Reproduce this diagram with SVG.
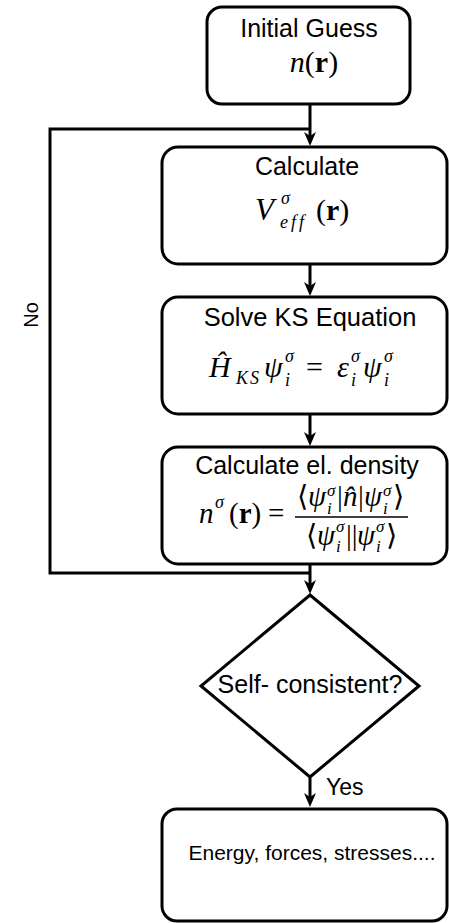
<svg xmlns="http://www.w3.org/2000/svg" width="449" height="923" viewBox="0 0 449 923">
<style>
.box{fill:#fff;stroke:#000;stroke-width:3}
.ln{fill:none;stroke:#000;stroke-width:3}
.t{font-family:"Liberation Sans",Arial,sans-serif;font-size:25px;fill:#000;text-anchor:middle}
.m{font-family:"Liberation Serif","DejaVu Serif","DejaVu Sans",serif;font-size:30px;font-style:italic;fill:#000}
.f{font-size:29px}
.u{font-style:normal}
.b{font-style:normal;font-weight:bold}
.s{font-size:18px}
.s2{font-size:17px}
</style>
<defs>
<marker id="arr" viewBox="0 0 14 12" refX="4" refY="6" markerWidth="14" markerHeight="12" markerUnits="userSpaceOnUse" orient="auto">
<path d="M0,0 L14,6 L0,12 L4,6 Z" fill="#000"/>
</marker>
</defs>
<g id="connectors">
<path class="ln" d="M310,573 H50 V129 H310"/>
<path class="ln" d="M310,105 V136" marker-end="url(#arr)"/>
<path class="ln" d="M310,264 V286" marker-end="url(#arr)"/>
<path class="ln" d="M310,414 V436" marker-end="url(#arr)"/>
<path class="ln" d="M310,564 V584" marker-end="url(#arr)"/>
<path class="ln" d="M310,777 V797" marker-end="url(#arr)"/>
<text class="t" style="font-size:23px;text-anchor:start" x="326" y="795">Yes</text>
<text class="t" style="font-size:20px" transform="translate(38,315) rotate(-90)">No</text>
</g>
<g id="initial">
<rect class="box" x="207" y="7" width="203" height="97" rx="15"/>
<text class="t" x="309" y="37">Initial Guess</text>
<text class="m" x="314" y="72" text-anchor="middle">n<tspan class="u">(</tspan><tspan class="b">r</tspan><tspan class="u">)</tspan></text>
</g>
<g id="calcV">
<rect class="box" x="162" y="147" width="285" height="117" rx="16"/>
<text class="t" x="307" y="175">Calculate</text>
<text class="m" style="font-size:31px" x="255" y="220">V</text>
<text class="m s" x="281" y="204">σ</text>
<text class="m s" style="letter-spacing:3px" x="280" y="228">eff</text>
<text class="m u" x="316" y="220">(<tspan class="b">r</tspan>)</text>
</g>
<g id="solveKS">
<rect class="box" x="162" y="297" width="285" height="117" rx="16"/>
<text class="t" style="font-size:25.5px" x="310" y="326">Solve KS Equation</text>
<text class="m" x="209" y="377">Ĥ</text>
<text class="m s" style="letter-spacing:2px" x="236" y="384">KS</text>
<text class="m" x="264" y="377">ψ</text>
<text class="m s" x="285" y="362">σ</text>
<text class="m s" x="285" y="386">i</text>
<text class="m u" x="306" y="377">=</text>
<text class="m" x="337" y="377">ε</text>
<text class="m s" x="351" y="362">σ</text>
<text class="m s" x="351" y="386">i</text>
<text class="m" x="363" y="377">ψ</text>
<text class="m s" x="384" y="362">σ</text>
<text class="m s" x="384" y="386">i</text>
</g>
<g id="calcDensity">
<rect class="box" x="162" y="447" width="285" height="117" rx="16"/>
<text class="t" x="307" y="474">Calculate el. density</text>
<text class="m f" x="199" y="523">n</text>
<text class="m s" x="215" y="508">σ</text>
<text class="m f u" x="229" y="523">(<tspan class="b">r</tspan>)</text>
<text class="m f u" x="268" y="523">=</text>
<line x1="295" y1="517" x2="408" y2="517" stroke="#000" stroke-width="1.6"/>
<text class="m f u" x="297" y="506">⟨</text>
<text class="m f" x="308" y="506">ψ</text>
<text class="m s2" x="327" y="496">σ</text>
<text class="m s2" x="327" y="514">i</text>
<text class="m f u" x="337" y="506">|</text>
<text class="m f" x="343" y="506">n̂</text>
<text class="m f u" x="358" y="506">|</text>
<text class="m f" x="364" y="506">ψ</text>
<text class="m s2" x="383" y="496">σ</text>
<text class="m s2" x="383" y="514">i</text>
<text class="m f u" x="393" y="506">⟩</text>
<text class="m f u" x="306" y="545">⟨</text>
<text class="m f" x="317" y="545">ψ</text>
<text class="m s2" x="336" y="532">σ</text>
<text class="m s2" x="336" y="552">i</text>
<text class="m f u" x="346" y="545">||</text>
<text class="m f" x="357" y="545">ψ</text>
<text class="m s2" x="376" y="532">σ</text>
<text class="m s2" x="376" y="552">i</text>
<text class="m f u" x="386" y="545">⟩</text>
</g>
<g id="decision">
<polygon class="box" points="310,595 419,686 310,777 201,686"/>
<text class="t" x="310" y="693">Self- consistent?</text>
</g>
<g id="output">
<rect class="box" x="162" y="809" width="285" height="112" rx="15"/>
<text class="t" style="font-size:21px" x="312" y="860">Energy, forces, stresses....</text>
</g>
</svg>
